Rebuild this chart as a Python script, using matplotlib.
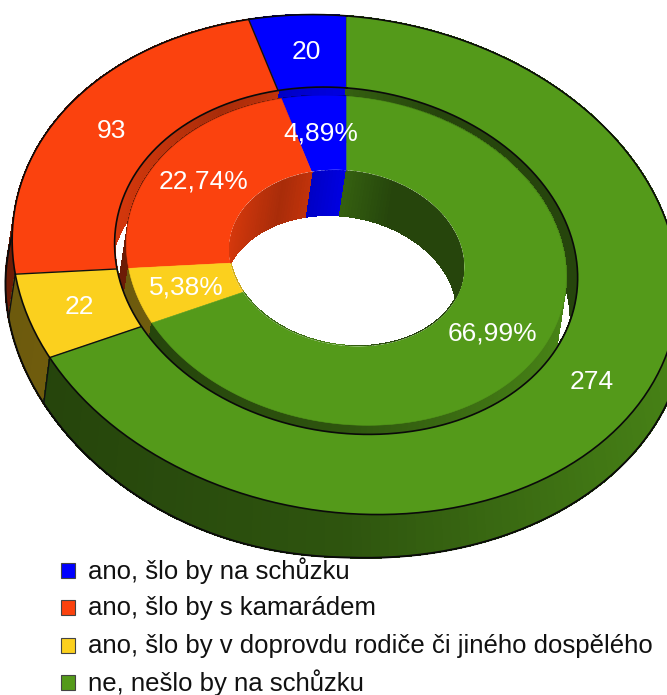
import numpy as np
import matplotlib
matplotlib.use("Agg")
import matplotlib.pyplot as plt
from matplotlib.patches import Polygon, Rectangle

plt.rcParams['font.family'] = ['Liberation Sans', 'DejaVu Sans']

# ---- data ----
categories = ["ano, šlo by na schůzku", "ano, šlo by s kamarádem",
              "ano, šlo by v doprovdu rodiče či jiného dospělého", "ne, nešlo by na schůzku"]
counts = [20, 93, 22, 274]
percents = [4.89, 22.74, 5.38, 66.99]
colors = ["#0000ff", "#fb420e", "#fbd01e", "#549a1a"]

# ---- layout ----
W, H_px = 667, 695
R_OUT, R_GAP, R_INNER, R_HOLE = 1.0, 0.695, 0.66, 0.352
count_xy = [(306, 52), (111, 131), (79, 307), (592, 382)]
pct_xy = [(321, 133), (204, 181), (186, 287), (492, 333)]
legend_y = [570, 607.5, 645, 682]

# camera calibration: (pie angle, radius, pixel x, pixel y)
calib = [(0, 1, 346, 17), (342.4, 1, 250, 22), (260.5, 1, 16, 273), (241.2, 1, 50, 355),
         (0, .695, 345, 88), (342.4, .695, 277, 90), (260.5, .695, 118, 268), (241.2, .695, 140, 327),
         (0, .66, 346, 97), (342.4, .66, 283, 100), (260.5, .66, 127, 273), (241.2, .66, 153, 323),
         (0, .352, 346, 170), (342.4, .352, 312, 170), (260.5, .352, 232, 262), (241.2, .352, 242, 292)]
# rim points whose pie angle is unknown: (radius, pixel x, pixel y)
rim = [(1, 93, 80), (1, 17, 213), (1, 150, 47), (1, 390, 23), (1, 473, 43), (1, 540, 77), (1, 607, 130),
       (1, 640, 173), (1, 667, 227), (1, 667, 357), (1, 640, 400), (1, 580, 457), (1, 513, 490),
       (1, 447, 507), (1, 390, 514), (1, 347, 513), (1, 273, 503), (1, 207, 483), (1, 140, 447), (1, 85, 400),
       (.695, 577, 265), (.695, 340, 432), (.695, 473, 117), (.695, 507, 407),
       (.352, 340, 345), (.352, 383, 343), (.352, 453, 302), (.352, 463, 262)]


def fit_h(uv, xy):
    A, b = [], []
    for (u, v), (x, y) in zip(uv, xy):
        A.append([u, v, 1, 0, 0, 0, -u * x, -v * x]); b.append(x)
        A.append([0, 0, 0, u, v, 1, -u * y, -v * y]); b.append(y)
    h = np.linalg.lstsq(np.array(A), np.array(b), rcond=None)[0]
    return np.append(h, 1).reshape(3, 3)


c_uv = [(r * np.sin(np.radians(t)), r * np.cos(np.radians(t))) for t, r, _, _ in calib] + [(0, 0)]
c_xy = [(x, y) for _, _, x, y in calib] + [(347, 260)]
HM = fit_h(c_uv, c_xy)
for _ in range(60):
    inv = np.linalg.inv(HM)
    uv2, xy2 = list(c_uv), list(c_xy)
    for r, x, y in rim:
        p = inv @ np.array([x, y, 1.0])
        q = p[:2] / p[2]
        uv2.append(tuple(q / np.hypot(*q) * r)); xy2.append((x, y))
    HM = fit_h(uv2, xy2)


def project(r, theta, drop=None):
    t = np.radians(np.asarray(theta, float))
    p = HM @ np.vstack([r * np.sin(t), r * np.cos(t), np.ones_like(t)])
    x, y = p[0] / p[2], p[1] / p[2]
    if drop == 'outer':
        d = np.where(x > 346, 44 - .028 * (x - 346), 44 + 6 * np.sin(np.pi * np.clip(346 - x, 0, 330) / 330))
        x, y = 346 + (x - 346) * 1.02, y + d
    elif drop == 'inner':
        x, y = x - 7, y + 45
    return np.column_stack([x, y])


def sectors(values):
    ends = 360 - np.cumsum(values) / np.sum(values) * 360
    starts = np.concatenate([[360], ends[:-1]])
    return list(zip(starts, ends))


def arc(a, b, n=None):
    return np.linspace(a, b, n or max(3, int(abs(a - b) / 1.5)))


def shade(color, k):
    return tuple(np.array(matplotlib.colors.to_rgb(color)) * k)


def outward(t):
    s = np.sin(np.radians(t))
    return .55 + (.12 * s if s < 0 else .3 * s)


def inward(t):
    s = np.sin(np.radians(t))
    if s > 0:
        return .45 + .17 * max(0, 1 - s * 2.5)
    return .62 + .2 * abs(abs(s) - .55) / .45 * .9 + .05


fig = plt.figure(figsize=(W / 100, H_px / 100), dpi=100)
ax = fig.add_axes([0, 0, 1, 1])
ax.set_xlim(0, W); ax.set_ylim(H_px, 0); ax.axis('off')
z = [1]


def add(poly, **kw):
    z[0] += 1
    p = Polygon(poly, closed=True, zorder=z[0], **kw)
    ax.add_patch(p)
    return p


def wall(r, values, fn, mode, clip=None):
    for (a, b), col in zip(sectors(values), colors):
        t = arc(a, b)
        for t0, t1 in zip(t[:-1], t[1:]):
            ts = [t0, t1]
            pts = np.vstack([project(r, ts), project(r, ts, mode)[::-1]])
            c = shade(col, fn((t0 + t1) / 2))
            p = add(pts, fc=c, ec=c, lw=.6, antialiased=False)
            if clip is not None:
                p.set_clip_path(clip)


def face(r0, r1, values, line):
    for (a, b), col in zip(sectors(values), colors):
        t = arc(a, b)
        pts = np.vstack([project(r1, t), project(r0, t)[::-1]])
        add(pts, fc=col, ec=col, lw=.4)
        if line:
            seg = np.vstack([project(r0, [a]), project(r1, [a])])
            z[0] += 1
            ax.plot(seg[:, 0], seg[:, 1], color='#101010', lw=1.0, zorder=z[0])


def ring_line(r, drop=None, lw=1.2):
    pts = project(r, arc(0, 360, 361), drop)
    z[0] += 1
    ax.plot(pts[:, 0], pts[:, 1], color='#0a0a0a', lw=lw, zorder=z[0])


def clip_for(r):
    return Polygon(project(r, arc(0, 360, 361)), closed=True, transform=ax.transData)


# outer side wall
wall(R_OUT, counts, outward, 'outer')
ring_line(R_OUT, 'outer', 1.4)
for a, _ in sectors(counts):
    if 180 < a < 270:
        seg = np.vstack([project(R_OUT, [a]), project(R_OUT, [a], 'outer')])
        z[0] += 1
        ax.plot(seg[:, 0], seg[:, 1], color='#101010', lw=1.0, zorder=z[0])

# outer ring top
face(R_GAP, R_OUT, counts, True)
ring_line(R_OUT)

# gap between rings
add(project(R_GAP, arc(0, 360, 361)), fc='white', ec='none')
wall(R_GAP, counts, inward, 'inner', clip_for(R_GAP))
wall(R_INNER, percents, outward, 'inner', clip_for(R_GAP))
ring_line(R_GAP)

# inner ring top
face(R_HOLE, R_INNER, percents, False)

# hole
add(project(R_HOLE, arc(0, 360, 361)), fc='white', ec='white', lw=.5)
wall(R_HOLE, percents, inward, 'inner', clip_for(R_HOLE))

# labels
for v, (x, y) in zip(counts, count_xy):
    ax.text(x, y, str(v), color='white', fontsize=19, ha='center', va='center', zorder=5000)
for v, (x, y) in zip(percents, pct_xy):
    ax.text(x, y, f"{v:.2f}%".replace('.', ','), color='white', fontsize=19, ha='center', va='center', zorder=5000)

# legend
for name, col, y in zip(categories, colors, legend_y):
    ax.add_patch(Rectangle((61, y - 7.5), 14, 15, fc=col, ec='#444444', lw=.8, zorder=5000))
    ax.text(88, y + 1, name, color='#111111', fontsize=18.5, ha='left', va='center', zorder=5000)

fig.savefig("out.png", dpi=100)
